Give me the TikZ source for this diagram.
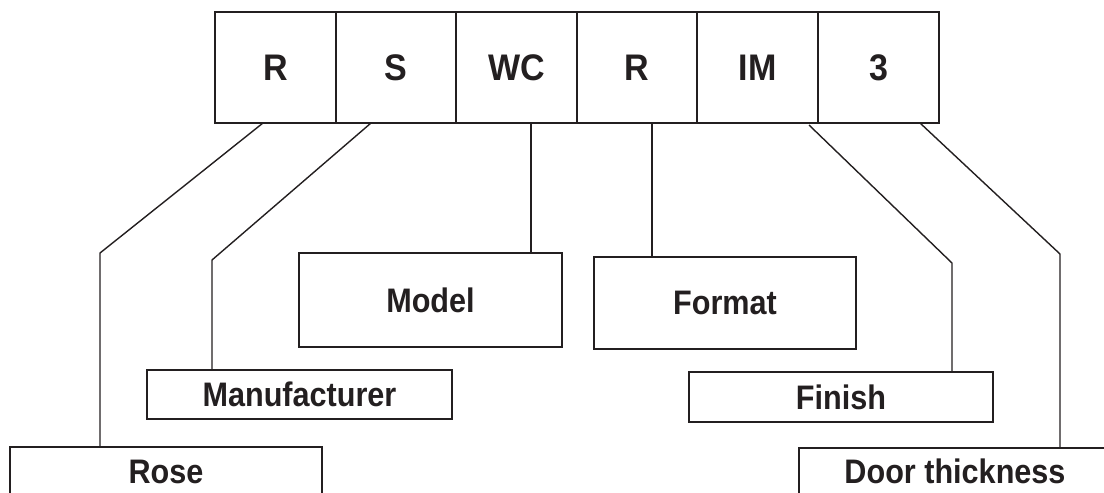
\documentclass[tikz,border=0pt]{standalone}
\usepackage{fontspec}
\setmainfont{Liberation Sans}
\newfontfamily\topfont[FakeStretch=0.92]{Liberation Sans}
\newfontfamily\labfont[FakeStretch=0.9]{Liberation Sans}
\definecolor{ink}{HTML}{231F20}
\begin{document}
\begin{tikzpicture}[x=1pt,y=-1pt,
  cell/.style={draw=ink,line width=1.4pt,inner sep=0pt,outer sep=0pt,minimum width=121pt,minimum height=111pt,text=ink,font=\topfont\fontsize{37}{42}\selectfont\bfseries},
  label/.style={draw=ink,line width=1.4pt,inner sep=0pt,outer sep=0pt,text=ink,font=\labfont\fontsize{34}{38}\selectfont\bfseries},
  conn/.style={draw=ink,line width=1.4pt,line join=miter}]
\useasboundingbox (0,0) rectangle (1104,493);
\clip (0,0) rectangle (1104,493);
% top row
\node[cell] (c1) at (275.5,67.5) {R};
\node[cell] (c2) at (396,67.5) {S};
\node[cell] (c3) at (516.5,67.5) {WC};
\node[cell] (c4) at (637,67.5) {R};
\node[cell] (c5) at (757.5,67.5) {IM};
\node[cell] (c6) at (878.5,67.5) {3};
% labels
\node[label,minimum width=263pt,minimum height=94pt] (model) at (430.5,300) {Model};
\node[label,minimum width=262pt,minimum height=92pt] (format) at (725,303) {Format};
\node[label,minimum width=305pt,minimum height=49pt] (manu) at (299.5,394.5) {Manufacturer};
\node[label,minimum width=304pt,minimum height=50pt] (finish) at (841,397) {Finish};
\node[label,minimum width=312pt,minimum height=50pt] (rose) at (166,472) {Rose};
\node[label,minimum width=312pt,minimum height=47pt] (door) at (955,471.5) {Door thickness};
% knees
\coordinate (k1) at (100,253);
\coordinate (k2) at (212,260);
\coordinate (k5) at (952,263);
\coordinate (k6) at (1060,254);
% connectors
\draw[conn] ([xshift=-12.5pt]c1.south) -- (k1) -- (k1 |- rose.north);
\draw[conn] ([xshift=-25pt]c2.south) -- (k2) -- (k2 |- manu.north);
\draw[conn] ([xshift=14.5pt]c3.south) -- ([xshift=14.5pt]c3.south |- model.north);
\draw[conn] ([xshift=15pt]c4.south) -- ([xshift=15pt]c4.south |- format.north);
\draw[conn] ([xshift=51.5pt,yshift=-2pt]c5.south) -- (k5) -- (k5 |- finish.north);
\draw[conn] ([xshift=41.5pt]c6.south) -- (k6) -- (k6 |- door.north);
\end{tikzpicture}
\end{document}
